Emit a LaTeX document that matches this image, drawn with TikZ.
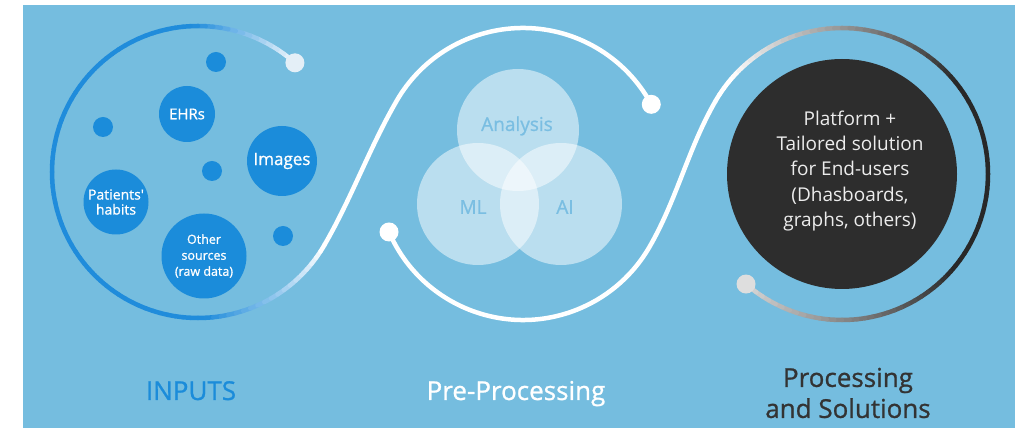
\documentclass[tikz,border=0pt]{standalone}
\usepackage{fontspec}
\setmainfont{Open Sans}
\newfontfamily\medfont[FakeBold=0.9]{Open Sans}
\usetikzlibrary{calc}
\definecolor{bgblue}{RGB}{117,189,223}
\definecolor{bubblue}{RGB}{27,140,218}
\definecolor{curveblue}{RGB}{32,140,219}
\definecolor{darkc}{RGB}{40,40,40}
\definecolor{darkfill}{RGB}{45,45,45}
\definecolor{venntext}{RGB}{122,190,226}
\definecolor{titlegray}{RGB}{51,51,51}
\definecolor{dotA}{RGB}{228,239,247}
\definecolor{dotB}{RGB}{222,222,222}
\begin{document}
\begin{tikzpicture}[x=1pt,y=1pt,
  curve/.style={line width=4.5pt, line cap=round},
  bubble/.style={circle, fill=bubblue, inner sep=0pt, text=white, align=center},
  smalldot/.style={circle, fill=bubblue, inner sep=0pt, minimum size=20pt},
  enddot/.style={circle, inner sep=0pt, minimum size=19pt},
  venn/.style={circle, fill=white, fill opacity=0.5, inner sep=0pt, minimum size=122pt},
  venntxt/.style={text=venntext, font=\medfont\fontsize{19}{22}\selectfont},
  title/.style={font=\medfont\fontsize{26}{31}\selectfont, align=center}
]
\useasboundingbox (0,0) rectangle (1021,428);
\fill[white] (0,0) rectangle (1021,428);
\fill[bgblue] (23,0) rectangle (1015,423);

% circle centres of the spiral
\coordinate (C1) at (198,256);
\coordinate (C2) at (523,254);
\coordinate (C3) at (842,254);
\def\R{146}
\coordinate (a0) at ($(C1)+(48.4:\R)$);
\coordinate (a1) at ($(C1)+(330:\R)$);
\coordinate (a2) at ($(C2)+(150:\R)$);
\coordinate (a3) at ($(C2)+(28.5:\R)$);
\coordinate (b0) at ($(C2)+(203.4:\R)$);
\coordinate (b1) at ($(C2)+(330:\R)$);
\coordinate (b2) at ($(C3)+(150:\R)$);
\coordinate (b3) at ($(C3)+(-131.1:\R)$);

% curve A : blue arc around the inputs, fading to white
\foreach \a in {48,51,...,327} {
  \pgfmathtruncatemacro\p{max(0,min(100,min((\a-45)*2.2,(328-\a)*1.8)))}
  \draw[curve, draw=curveblue!\p!white] ($(C1)+(\a:\R)$) arc[start angle=\a, delta angle=3, radius=\R];
}
\draw[curve, white] (a1) .. controls +(60:55) and +(240:55) .. (a2)
  arc[start angle=150, end angle=28.5, radius=\R];

% curve B : white, turning dark around the solutions
\draw[curve, white] (b0) arc[start angle=203.4, end angle=330, radius=\R]
  .. controls +(60:55) and +(240:55) .. (b2);
\foreach \a in {150,147,...,-129} {
  \pgfmathtruncatemacro\f{max(0,min(100,min(140-\a,100+(\a+40)*0.9)))}
  \draw[curve, draw=darkc!\f!white] ($(C3)+(\a:\R)$) arc[start angle=\a, delta angle=-3, radius=\R];
}

% end dots
\node[enddot, fill=dotA] (dA0) at (a0) {};
\node[enddot, fill=white] (dA3) at (a3) {};
\node[enddot, fill=white] (dB0) at (b0) {};
\node[enddot, fill=dotB] (dB3) at (b3) {};

% inputs
\node[smalldot] (s1) at (216,366) {};
\node[smalldot] (s2) at (103,301) {};
\node[smalldot] (s3) at (212,257) {};
\node[smalldot] (s4) at (283,192) {};
\node[bubble, minimum size=56pt, font=\medfont\fontsize{15}{17}\selectfont] (ehr) at (187,314) {EHRs};
\node[bubble, minimum size=70pt, font=\medfont\fontsize{17}{20}\selectfont] (img) at (282,267) {Images};
\node[bubble, minimum size=65pt, font=\medfont\fontsize{14}{15}\selectfont] (pat) at (116,226) {Patients'\\habits};
\node[bubble, minimum size=85pt, font=\medfont\fontsize{12.5}{16}\selectfont] (oth) at (204,172) {Other\\sources\\(raw data)};

% pre-processing venn
\node[venn] (vAn) at (518,298) {};
\node[venn] (vML) at (478,224) {};
\node[venn] (vAI) at (561,224) {};
\node[venntxt] (tAn) at (517,302) {Analysis};
\node[venntxt] (tML) at (473,221) {ML};
\node[venntxt] (tAI) at (565,221) {AI};

% solutions
\node[circle, fill=darkfill, inner sep=0pt, minimum size=230pt] (sol) at (842,254) {};
\node[text={rgb,255:red,236;green,236;blue,236}, align=center,
  font=\fontsize{19}{25.3}\selectfont] (soltxt) at (850,257)
  {Platform +\\Tailored solution\\for End-users\\(Dhasboards,\\graphs, others)};

% titles
\node[title, text=bubblue, anchor=base] (tIn) at (191,28) {INPUTS};
\node[title, text=white, anchor=base] (tPre) at (516,28) {Pre-Processing};
\node[title, text=titlegray] (tSol) at (848,35) {Processing\\and Solutions};
\end{tikzpicture}
\end{document}
